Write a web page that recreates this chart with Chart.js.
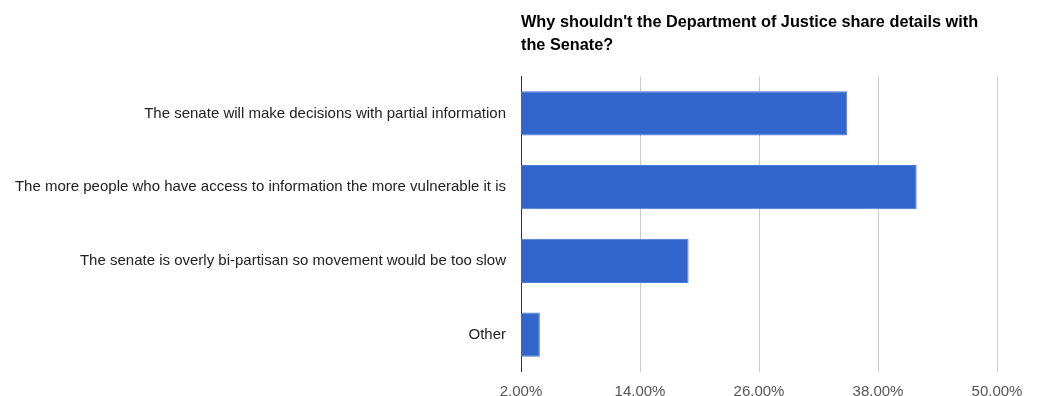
<!DOCTYPE html>
<html>
<head>
<meta charset="utf-8">
<script src="https://cdn.jsdelivr.net/npm/chart.js@4/dist/chart.umd.min.js"></script>
<style>
  html, body { margin: 0; padding: 0; background: #fff; }
  #wrap { position: relative; width: 1041px; height: 396px; }
  #title {
    position: absolute; left: 521px; top: 10px;
    font: bold 16.3px "Liberation Sans", Arial, sans-serif;
    line-height: 23px; color: #000; white-space: nowrap;
  }
  canvas { position: absolute; left: 0; top: 0; }
</style>
</head>
<body>
<div id="wrap">
  <canvas id="chart" width="1041" height="396"></canvas>
  <div id="title">Why shouldn't the Department of Justice share details with<br>the Senate?</div>
</div>
<script>
// Antworten und Anteile in Prozent
const categories = [
  'The senate will make decisions with partial information',
  'The more people who have access to information the more vulnerable it is',
  'The senate is overly bi-partisan so movement would be too slow',
  'Other'
];
const shares = [34.9, 41.9, 18.9, 3.9];
const axisTicks = [2, 14, 26, 38, 50];

const fontFamily = '"Liberation Sans", Arial, sans-serif';
const ctx = document.getElementById('chart').getContext('2d');

new Chart(ctx, {
  type: 'bar',
  data: {
    labels: categories,
    datasets: [{
      data: shares,
      backgroundColor: '#3366cc',
      borderColor: '#4a78d6',
      borderWidth: 1,
      borderSkipped: 'start',
      categoryPercentage: 1,
      barPercentage: 0.6
    }]
  },
  options: {
    indexAxis: 'y',
    responsive: false,
    animation: false,
    events: [],
    layout: { padding: { top: 76.5, right: 44, left: 0, bottom: 0 } },
    plugins: {
      legend: { display: false },
      tooltip: { enabled: false }
    },
    scales: {
      x: {
        min: axisTicks[0],
        max: axisTicks[axisTicks.length - 1],
        afterBuildTicks: (axis) => { axis.ticks = axisTicks.map(v => ({ value: v })); },
        afterFit: (axis) => { axis.height = 24.4; },
        grid: { color: '#cccccc', drawTicks: false },
        border: { display: false },
        ticks: {
          padding: 11,
          color: '#555',
          font: { family: fontFamily, size: 15 },
          callback: (v) => Number(v).toFixed(2) + '%'
        }
      },
      y: {
        afterFit: (axis) => { axis.width = 521; },
        grid: { display: false, drawTicks: false },
        border: { display: true, color: '#333', width: 1 },
        ticks: {
          padding: 15,
          color: '#222',
          font: { family: fontFamily, size: 15 }
        }
      }
    }
  }
});
</script>
</body>
</html>
